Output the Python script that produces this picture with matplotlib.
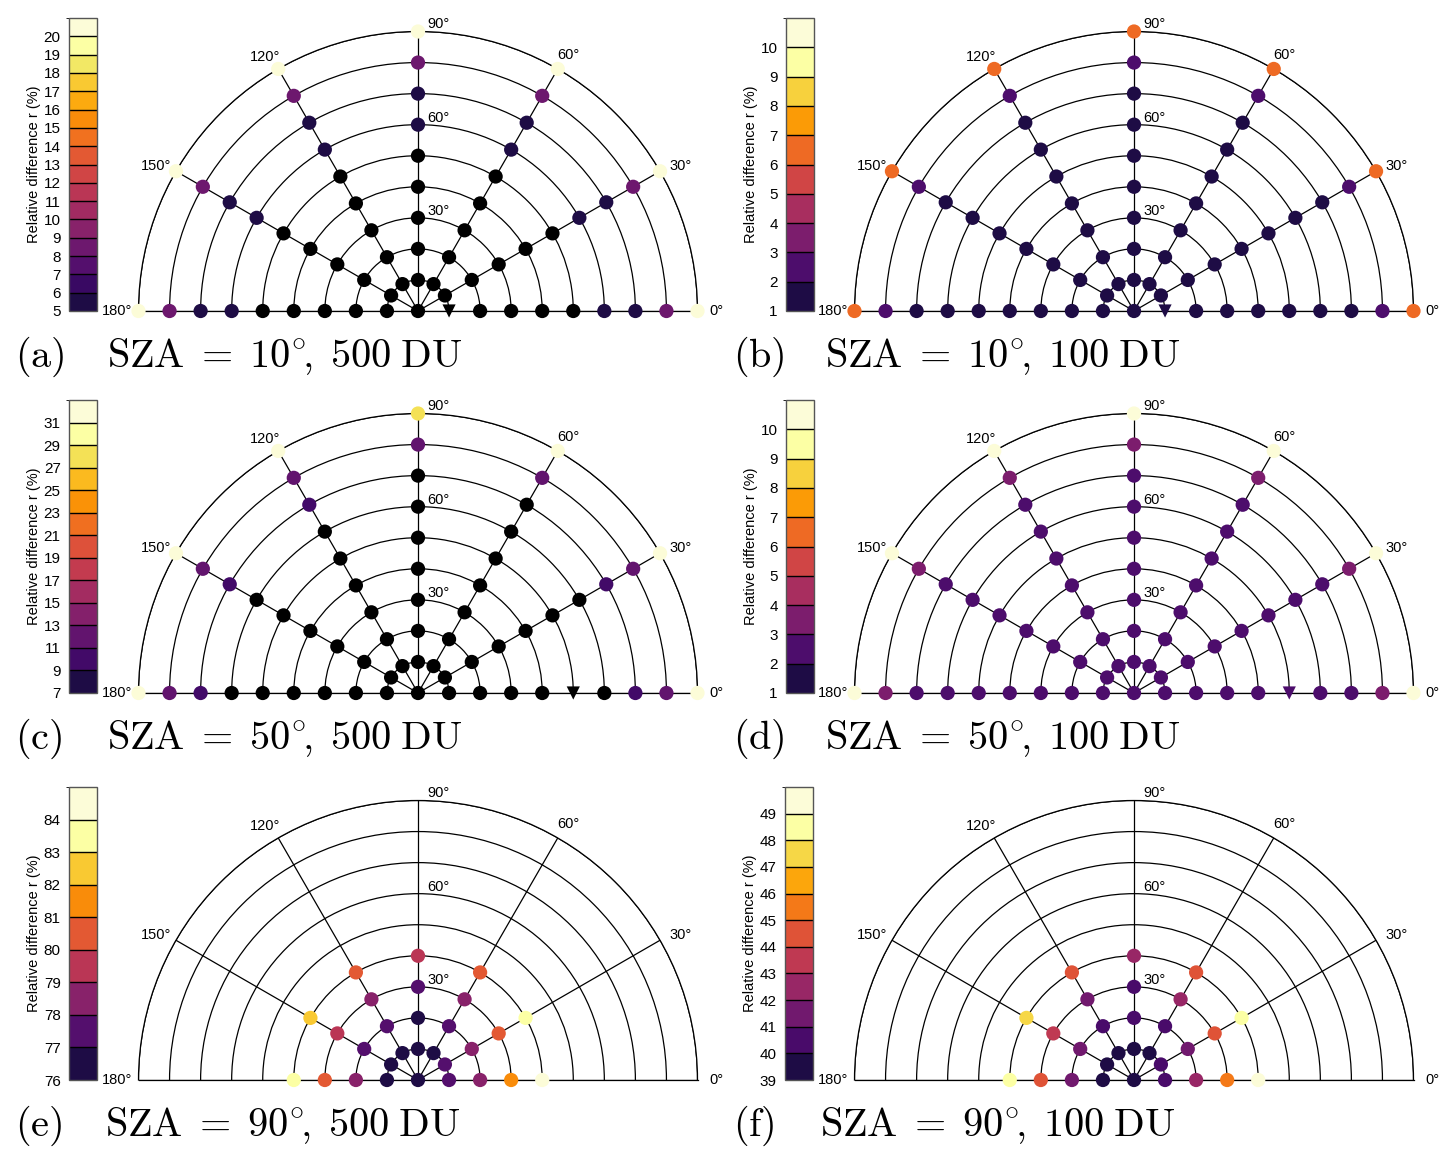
import numpy as np
import matplotlib
matplotlib.use('Agg')
import matplotlib.pyplot as plt
from matplotlib.colors import ListedColormap, BoundaryNorm
from matplotlib.cm import ScalarMappable

plt.rcParams['font.family'] = ['Liberation Sans', 'DejaVu Sans']
plt.rcParams['mathtext.fontset'] = 'cm'

W, H = 1456, 1169

# viewing azimuths (deg) and zenith angles (deg)
azimuths = [0, 30, 60, 90, 120, 150, 180]
zen_full = [10, 20, 30, 40, 50, 60, 70, 80, 90]
zen_short = [10, 20, 30, 40]

# relative difference r (%) per azimuth, zenith 10..90 (or 10..40)
a_vals = [
    [3.0, 3.2, 3.5, 4.0, 4.6, 5.6, 5.9, 8.5, 20.5],
    [3.0, 3.2, 3.5, 4.0, 4.6, 5.6, 5.9, 8.5, 20.5],
    [3.0, 3.2, 3.5, 4.0, 4.6, 5.6, 5.9, 8.5, 20.5],
    [3.0, 3.2, 3.5, 4.0, 4.6, 5.6, 5.9, 8.5, 20.5],
    [3.0, 3.2, 3.5, 4.0, 4.6, 5.6, 5.9, 8.5, 20.5],
    [3.0, 3.2, 3.5, 4.0, 4.6, 5.6, 5.9, 8.5, 20.5],
    [3.0, 3.2, 3.5, 4.0, 4.6, 5.6, 5.9, 8.5, 20.5],
]
a_center = 2.9
b_vals = [
    [1.4, 1.4, 1.5, 1.5, 1.6, 1.6, 1.7, 2.5, 6.5],
    [1.4, 1.4, 1.5, 1.5, 1.6, 1.6, 1.7, 2.5, 6.5],
    [1.4, 1.4, 1.5, 1.5, 1.6, 1.6, 1.7, 2.5, 6.5],
    [1.4, 1.4, 1.5, 1.5, 1.6, 1.6, 1.7, 2.5, 6.5],
    [1.4, 1.4, 1.5, 1.5, 1.6, 1.6, 1.7, 2.5, 6.5],
    [1.4, 1.4, 1.5, 1.5, 1.6, 1.6, 1.7, 2.5, 6.5],
    [1.4, 1.4, 1.5, 1.5, 1.6, 1.6, 1.7, 2.5, 6.5],
]
b_center = 1.4
c_vals = [
    [4.0, 4.5, 5.0, 5.5, 6.0, 6.5, 10.0, 12.0, 32.0],
    [4.0, 4.5, 5.0, 5.5, 6.0, 6.5, 10.0, 12.0, 32.0],
    [4.0, 4.5, 5.0, 5.5, 6.0, 6.3, 6.8, 12.0, 32.0],
    [4.0, 4.5, 5.0, 5.5, 6.0, 6.3, 6.8, 12.0, 28.0],
    [4.0, 4.5, 5.0, 5.5, 6.0, 6.5, 10.0, 12.0, 32.0],
    [4.0, 4.5, 5.0, 5.5, 6.0, 6.5, 10.0, 12.0, 32.0],
    [4.0, 4.5, 5.0, 5.5, 6.0, 6.5, 10.0, 12.0, 32.0],
]
c_center = 3.8
d_vals = [
    [2.3, 2.3, 2.4, 2.4, 2.5, 2.5, 2.6, 3.5, 10.5],
    [2.3, 2.3, 2.4, 2.4, 2.5, 2.5, 2.6, 3.5, 10.5],
    [2.3, 2.3, 2.4, 2.4, 2.5, 2.5, 2.6, 3.5, 10.5],
    [2.3, 2.3, 2.4, 2.4, 2.5, 2.5, 2.6, 3.5, 10.5],
    [2.3, 2.3, 2.4, 2.4, 2.5, 2.5, 2.6, 3.5, 10.5],
    [2.3, 2.3, 2.4, 2.4, 2.5, 2.5, 2.6, 3.5, 10.5],
    [2.3, 2.3, 2.4, 2.4, 2.5, 2.5, 2.6, 3.5, 10.5],
]
d_center = 2.3
e_vals = [
    [77.5, 78.5, 81.5, 84.5],
    [77.5, 78.5, 80.5, 83.5],
    [76.5, 77.5, 78.5, 80.5],
    [76.5, 76.6, 77.5, 79.5],
    [76.5, 77.5, 78.5, 80.5],
    [76.5, 77.5, 79.5, 82.5],
    [76.5, 78.5, 80.5, 83.5],
]
e_center = 76.4
f_vals = [
    [40.5, 42.5, 45.5, 49.5],
    [40.5, 41.5, 44.5, 48.5],
    [39.5, 40.5, 42.5, 44.5],
    [39.5, 40.5, 40.6, 42.5],
    [39.5, 40.5, 41.5, 44.5],
    [39.5, 41.5, 43.5, 47.5],
    [39.5, 41.5, 44.5, 48.5],
]
f_center = 39.4

a_bounds = list(range(5, 22))
b_bounds = list(range(1, 12))
c_bounds = list(range(7, 34, 2))
d_bounds = list(range(1, 12))
e_bounds = list(range(76, 86))
f_bounds = list(range(39, 51))

# sun position (azimuth, zenith) or None
a_sun = (0, 10)
b_sun = (0, 10)
c_sun = (0, 50)
d_sun = (0, 50)

angle_label_pos = {0: (0, 96), 30: (29, 96.5), 60: (59.5, 95.5), 90: (86, 92.5),
                   120: (121, 95.5), 150: (151, 96.5), 180: (180, 97)}


def make_cmap(bounds):
    n = len(bounds) - 1
    cols = list(plt.cm.inferno(np.linspace(0.12, 1.0, n - 1))) + ['#fcfcd8']
    cmap = ListedColormap(cols)
    cmap.set_under('black')
    return cmap, BoundaryNorm(bounds, n)


def draw_panel(fig, cx, cy, cbx, vals, center, zeniths, bounds, ticks, sun, tag, title, tag_x, title_x):
    R = 279.5
    # half-disc is centred vertically in a square box of side 2R
    ax = fig.add_axes([(cx - R) / W, (H - cy - R / 2) / H, 2 * R / W, 2 * R / H], projection='polar')
    ax.set_thetamin(0)
    ax.set_thetamax(180)
    ax.set_rlim(0, 90)
    ax.set_xticks(np.deg2rad(azimuths))
    ax.set_xticklabels([])
    ax.set_yticks(zen_full)
    ax.set_yticklabels([])
    ax.tick_params(length=0)
    ax.grid(True, color='black', lw=0.9)
    for sp in ax.spines.values():
        sp.set_color('black')
        sp.set_linewidth(0.9)
    ax.set_facecolor('none')

    cmap, norm = make_cmap(bounds)
    th, rr, cc = [np.deg2rad(0)], [0], [center]
    sth, srr, scc = [], [], []
    for i, az in enumerate(azimuths):
        for j, z in enumerate(zeniths):
            if sun is not None and (az, z) == sun:
                sth.append(np.deg2rad(az)); srr.append(z); scc.append(vals[i][j])
            else:
                th.append(np.deg2rad(az)); rr.append(z); cc.append(vals[i][j])
    ax.scatter(th, rr, c=cc, cmap=cmap, norm=norm, s=105, marker='o',
               edgecolors='none', zorder=3, clip_on=False)
    if sth:
        ax.scatter(sth, srr, c=scc, cmap=cmap, norm=norm, s=90, marker='v',
                   edgecolors='none', zorder=3, clip_on=False)

    for az in azimuths:
        t, r = angle_label_pos[az]
        ax.text(np.deg2rad(t), r, f'{az}°', ha='center', va='center', fontsize=10.5)
    for z in (30, 60):
        ax.annotate(f'{z}°', xy=(np.pi / 2, z), xytext=(7, 0), textcoords='offset points',
                    ha='left', va='bottom', fontsize=10.5)

    cax = fig.add_axes([cbx / W, (H - cy) / H, 28 / W, 293 / H])
    cb = fig.colorbar(ScalarMappable(norm=norm, cmap=cmap), cax=cax, ticks=ticks, drawedges=True)
    cb.dividers.set_color('black')
    cb.dividers.set_linewidth(1.0)
    cb.outline.set_edgecolor('#555555')
    cb.outline.set_linewidth(1.0)
    cax.yaxis.set_ticks_position('left')
    cax.yaxis.set_label_position('left')
    cax.tick_params(length=0, labelsize=11, pad=6)
    cb.set_label('Relative difference r (%)', fontsize=10.5, labelpad=2)

    ty = (H - (cy + 46)) / H
    fig.text(tag_x / W, ty, tag, fontsize=29, va='center', ha='left')
    fig.text(title_x / W, ty, title, fontsize=29, va='center', ha='left')


fig = plt.figure(figsize=(W / 100, H / 100), dpi=100)

draw_panel(fig, 418, 311, 69, a_vals, a_center, zen_full, a_bounds, list(range(5, 21)), a_sun,
           r'$\mathrm{(a)}$', r'$\mathrm{SZA}\;=\;10^{\circ}\!,\;\mathrm{500\;DU}$', 15, 107)
draw_panel(fig, 1134, 311, 786, b_vals, b_center, zen_full, b_bounds, list(range(1, 11)), b_sun,
           r'$\mathrm{(b)}$', r'$\mathrm{SZA}\;=\;10^{\circ}\!,\;\mathrm{100\;DU}$', 733, 825)
draw_panel(fig, 418, 693, 69, c_vals, c_center, zen_full, c_bounds, list(range(7, 32, 2)), c_sun,
           r'$\mathrm{(c)}$', r'$\mathrm{SZA}\;=\;50^{\circ}\!,\;\mathrm{500\;DU}$', 15, 107)
draw_panel(fig, 1134, 693, 786, d_vals, d_center, zen_full, d_bounds, list(range(1, 11)), d_sun,
           r'$\mathrm{(d)}$', r'$\mathrm{SZA}\;=\;50^{\circ}\!,\;\mathrm{100\;DU}$', 733, 825)
draw_panel(fig, 418, 1080, 69, e_vals, e_center, zen_short, e_bounds, list(range(76, 85)), None,
           r'$\mathrm{(e)}$', r'$\mathrm{SZA}\;=\;90^{\circ}\!,\;\mathrm{500\;DU}$', 15, 105)
draw_panel(fig, 1134, 1080, 785, f_vals, f_center, zen_short, f_bounds, list(range(39, 50)), None,
           r'$\mathrm{(f)}$', r'$\mathrm{SZA}\;=\;90^{\circ}\!,\;\mathrm{100\;DU}$', 733, 820)

fig.savefig('out.png', dpi=100)
